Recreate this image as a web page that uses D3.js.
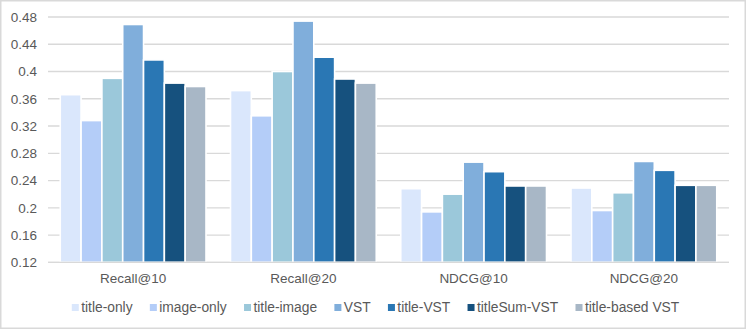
<!DOCTYPE html>
<html>
<head>
<meta charset="utf-8">
<script src="https://cdn.jsdelivr.net/npm/d3@7"></script>
<style>
  body { margin: 0; background: #fff; }
  text { font-family: "Liberation Sans", Arial, sans-serif; fill: #595959; }
</style>
</head>
<body>
<svg id="chart"></svg>
<script>
var categories = ["Recall@10", "Recall@20", "NDCG@10", "NDCG@20"]
var seriesNames = ["title-only", "image-only", "title-image", "VST", "title-VST", "titleSum-VST", "title-based VST"]
var seriesColors = ["#DAE7FC", "#B4CDF8", "#9BC8DA", "#80AEDB", "#2A77B4", "#16517E", "#A8B7C6"]
var titleOnly = [0.366, 0.372, 0.228, 0.229]
var imageOnly = [0.328, 0.335, 0.194, 0.196]
var titleImage = [0.390, 0.400, 0.220, 0.222]
var vst = [0.469, 0.474, 0.267, 0.268]
var titleVst = [0.417, 0.421, 0.253, 0.255]
var titleSumVst = [0.383, 0.389, 0.232, 0.233]
var titleBasedVst = [0.378, 0.383, 0.232, 0.233]
var yTicks = [0.12, 0.16, 0.2, 0.24, 0.28, 0.32, 0.36, 0.4, 0.44, 0.48]

var seriesValues = [titleOnly, imageOnly, titleImage, vst, titleVst, titleSumVst, titleBasedVst]

function drawChart() {
    let width = 747, height = 330;
    var margin = { top: 17, right: 18, bottom: 68, left: 48 };
    var plotRight = width - margin.right, plotBottom = 262.3;

    var svg = d3.select("#chart")
        .attr("width", width)
        .attr("height", height)

    // outer border
    svg.append("rect")
        .attr("x", 0.75).attr("y", 0.75)
        .attr("width", 744.5).attr("height", 327.5)
        .attr("fill", "#fff")
        .attr("stroke", "#D9D9D9")
        .attr("stroke-width", 1.5);

    var yScale = d3.scaleLinear()
        .domain([0.12, 0.48])
        .range([plotBottom, margin.top]);

    var x0 = d3.scaleBand()
        .domain(categories)
        .range([margin.left, plotRight])
        .paddingInner(0.144)
        .paddingOuter(0.072);

    var x1 = d3.scaleBand()
        .domain(seriesNames)
        .range([0, x0.bandwidth()]);

    // gridlines
    svg.append("g")
        .selectAll("line")
        .data(yTicks)
        .enter()
        .append("line")
        .attr("x1", margin.left)
        .attr("x2", plotRight)
        .attr("y1", d => yScale(d))
        .attr("y2", d => yScale(d))
        .attr("stroke", "#D9D9D9")
        .attr("stroke-width", 1.3);

    // y axis labels
    var yAxis = svg.append("g")
        .attr("transform", "translate(" + (margin.left - 11) + ",0)")
        .call(d3.axisLeft(yScale).tickValues(yTicks).tickFormat(d => d3.format("~g")(d)).tickSize(0).tickPadding(0));
    yAxis.select(".domain").remove();
    yAxis.selectAll("text")
        .attr("fill", "#595959")
        .style("font-size", "13.5px")
        .style("font-family", "'Liberation Sans', Arial, sans-serif");

    // bars
    var rows = [];
    categories.forEach((c, i) => {
        seriesNames.forEach((s, j) => {
            rows.push({ cat: c, name: s, value: seriesValues[j][i], color: seriesColors[j] });
        });
    });
    svg.append("g")
        .selectAll("rect")
        .data(rows)
        .enter()
        .append("rect")
        .attr("x", d => x0(d.cat) + x1(d.name))
        .attr("y", d => yScale(d.value))
        .attr("width", x1.bandwidth())
        .attr("height", d => plotBottom - yScale(d.value))
        .attr("fill", d => d.color)
        .attr("stroke", "#fff")
        .attr("stroke-width", 1.6);

    // baseline
    svg.append("line")
        .attr("x1", margin.left).attr("x2", plotRight)
        .attr("y1", plotBottom).attr("y2", plotBottom)
        .attr("stroke", "#D9D9D9")
        .attr("stroke-width", 1.3);

    // category labels
    svg.append("g")
        .selectAll("text")
        .data(categories)
        .enter()
        .append("text")
        .attr("x", d => x0(d) + x0.bandwidth() / 2)
        .attr("y", 283)
        .attr("text-anchor", "middle")
        .style("font-size", "13.5px")
        .text(d => d);

    // legend
    var legend = svg.append("g");
    var items = legend.selectAll("g")
        .data(seriesNames)
        .enter()
        .append("g");
    items.append("rect")
        .attr("width", 7).attr("height", 7)
        .attr("y", 304)
        .attr("fill", (d, i) => seriesColors[i]);
    items.append("text")
        .attr("x", 9.4)
        .attr("y", 312.3)
        .style("font-size", "13.8px")
        .text(d => d);
    var pos = 0;
    var offsets = [];
    items.each(function () {
        offsets.push(pos);
        var w = d3.select(this).select("text").node().getComputedTextLength();
        pos += 9.4 + w + 17.3;
    });
    var total = pos - 17.3;
    var start = 375.5 - total / 2;
    items.attr("transform", (d, i) => "translate(" + (start + offsets[i]) + ",0)");
}
drawChart();
</script>
</body>
</html>
